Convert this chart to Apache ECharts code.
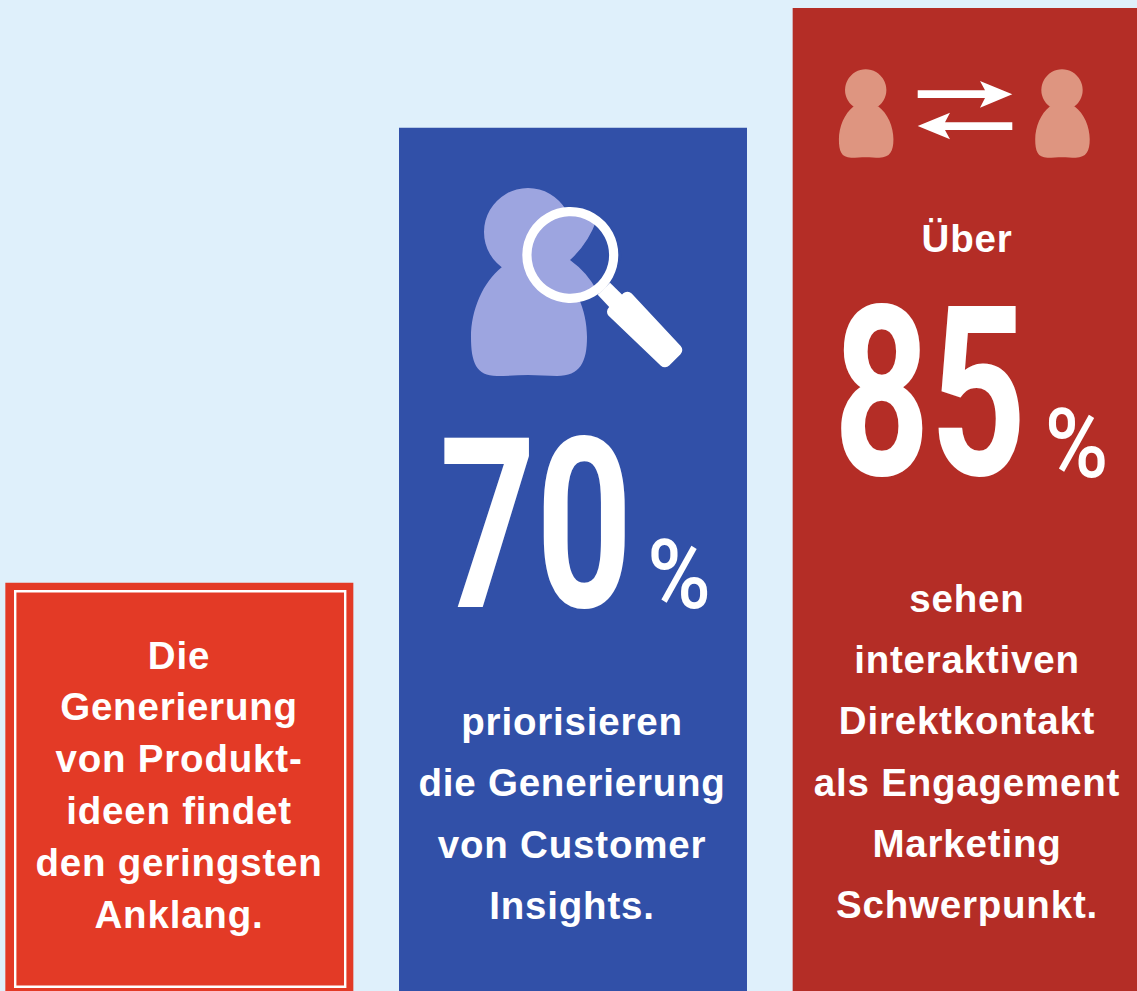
<!DOCTYPE html>
<html>
<head>
<meta charset="utf-8">
<title>Engagement Marketing</title>
<script src="https://cdn.jsdelivr.net/npm/echarts@6/dist/echarts.min.js"></script>
<style>
  html, body { margin: 0; padding: 0; background: #dff0fb; overflow: hidden; }
  #chart { width: 1137px; height: 991px; }
  /* body copy is slightly tracked in the original */
  #chart text[style*="38.5px"] { letter-spacing: 0.8px; }
</style>
</head>
<body>
<div id="chart"></div>
<script>
// bar height, as a share of the picture height
var categories = ["Produktideen", "Customer Insights", "Direktkontakt"];
var barValues = [41.2, 87.1, 99.2];
var barColors = ["#e33a26", "#3150a8", "#b42d26"];

var orangeLines = ["Die", "Generierung", "von Produkt-", "ideen findet", "den geringsten", "Anklang."];
var blueLines = ["priorisieren", "die Generierung", "von Customer", "Insights."];
var redLines = ["sehen", "interaktiven", "Direktkontakt", "als Engagement", "Marketing", "Schwerpunkt."];

var white = "#ffffff";
var font = "Liberation Sans";
var numberFont = "Roboto";
var items = [];

// the graphic component has no plain path type, so register the two outlines
echarts.graphic.registerShape("personBody", echarts.graphic.extendPath(
  "M-26,35 C-45,50 -57,78 -57,105 C-57,130 -52,144 -31,144 C-20,144 -10,143 0,143 " +
  "C10,143 20,144 29,144 C52,144 59,130 59,105 C59,78 47,50 27,35 Z", {}));
echarts.graphic.registerShape("lensWedge", echarts.graphic.extendPath(
  "M597,219 Q588,244 570,260 Q588,273 597,291 L612,285 L622,255 L612,225 Z", {}));

function push(el) {
  el.z = 10;
  el.z2 = items.length;
  el.silent = true;
  items.push(el);
}

function textLine(str, x, y) {
  push({
    type: "text", x: x, y: y,
    style: { text: str, fill: white, font: "bold 38.5px '" + font + "'", textAlign: "center", textVerticalAlign: "middle" }
  });
}

function bigNumber(str, x, y) {
  push({
    type: "text", x: x, y: y, scaleX: 0.71,
    style: { text: str, fill: white, font: "bold 237px '" + numberFont + "'", textAlign: "center", textVerticalAlign: "middle" }
  });
}

function percent(x, y) {
  push({
    type: "text", x: x, y: y, scaleX: 0.9,
    style: { text: "%", fill: white, font: "500 96px '" + numberFont + "'", textAlign: "center", textVerticalAlign: "middle" }
  });
}

// head and body of the little figure, drawn around the head centre
function person(x, y, scale, color) {
  push({ type: "circle", x: x, y: y, scaleX: scale, scaleY: scale, shape: { cx: 0, cy: 0, r: 44 }, style: { fill: color } });
  push({ type: "personBody", x: x, y: y, scaleX: scale, scaleY: scale, style: { fill: color } });
}

function polygon(points, color, stroke) {
  var style = { fill: color };
  if (stroke) {
    style.stroke = color;
    style.lineWidth = stroke;
    style.lineJoin = "round";
  }
  push({ type: "polygon", shape: { points: points }, style: style });
}

// orange box, inner frame
push({ type: "rect", shape: { x: 15.2, y: 591.2, width: 330, height: 395.5 }, style: { fill: "none", stroke: white, lineWidth: 2.4 } });
orangeLines.forEach(function (s, i) { textLine(s, 179, 655 + i * 51.9); });

// blue box, person under the magnifier
var personBlue = "#9da5e0";
person(528, 232, 1, personBlue);
push({ type: "circle", shape: { cx: 570.3, cy: 255, r: 43 }, style: { fill: personBlue } });
push({ type: "lensWedge", style: { fill: barColors[1] } });
push({ type: "circle", shape: { cx: 570.3, cy: 255, r: 43.4 }, style: { fill: "none", stroke: white, lineWidth: 9.2 } });
polygon([[610, 282.7], [625, 297.5], [612, 310], [597.7, 294.7]], white);
polygon([[627.3, 297.7], [613, 311.7], [665, 361.3], [676.3, 350]], white, 12);
bigNumber("70", 536, 525.5);
percent(679, 575);
blueLines.forEach(function (s, i) { textLine(s, 572, 721.5 + i * 61.4); });

// red box, two figures and the arrows
var personRed = "#de9580";
person(865.7, 90, 0.47, personRed);
person(1062, 90, 0.47, personRed);
polygon([[917.7, 90.3], [985, 90.3], [980, 81], [1012.3, 94.3], [980, 107.7], [985, 98], [917.7, 98]], white);
polygon([[1012.3, 122.3], [945, 122.3], [950, 112.7], [917.7, 126], [950, 139.3], [945, 130], [1012.3, 130]], white);
textLine("Über", 967, 238.5);
bigNumber("85", 930, 393.5);
percent(1076.5, 444);
redLines.forEach(function (s, i) { textLine(s, 967, 598.5 + i * 61.2); });

var option = {
  animation: false,
  backgroundColor: "#dff0fb",
  grid: { left: -17.5, width: 1181, top: 0, bottom: 0, containLabel: false, outerBoundsMode: "none" },
  xAxis: { type: "category", data: categories, show: false },
  yAxis: { type: "value", min: 0, max: 100, show: false },
  series: [
    {
      type: "bar",
      barWidth: 348,
      data: barValues.map(function (v, i) {
        return { value: v, itemStyle: { color: barColors[i] } };
      })
    }
  ],
  graphic: { elements: items }
};

var myChart = echarts.init(document.getElementById("chart"), null, { renderer: "svg" });
myChart.setOption(option);
</script>
</body>
</html>
